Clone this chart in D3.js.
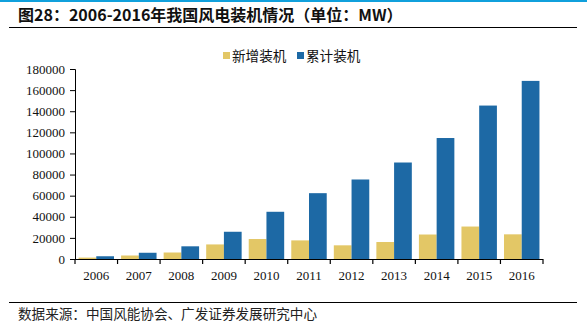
<!DOCTYPE html>
<html><head><meta charset="utf-8">
<script src="https://cdn.jsdelivr.net/npm/d3@7"></script>
<style>body{margin:0;background:#fff}svg{display:block}</style>
</head><body>
<script>
const years = ["2006","2007","2008","2009","2010","2011","2012","2013","2014","2015","2016"];
const newInstalled = [1337,3311,6154,13803,18928,17631,12960,16089,23196,30753,23370];
const cumulative = [2599,5910,12020,25805,44733,62364,75324,91413,114609,145362,168732];
const seriesNames = ["新增装机","累计装机"];
const yTicks = [0,20000,40000,60000,80000,100000,120000,140000,160000,180000];
const colors = ["#E3C766","#1D69A5"];
const titleText = "图28：2006-2016年我国风电装机情况（单位：MW）";
const sourceText = "数据来源：中国风能协会、广发证券发展研究中心";

const W=587,H=329;
const svg=d3.select("body").append("svg").attr("width",W).attr("height",H);
svg.append("rect").attr("x",0).attr("y",0).attr("width",W).attr("height",2).attr("fill","#10A0DC");
svg.append("text").attr("x",18).attr("y",21).text(titleText)
  .attr("font-family","'Noto Sans CJK SC', sans-serif").attr("font-weight","bold").attr("font-size",16).attr("fill","#111");
svg.append("line").attr("x1",9).attr("x2",577).attr("y1",27.5).attr("y2",27.5).attr("stroke","#000").attr("stroke-width",1.2);
svg.append("line").attr("x1",9).attr("x2",577).attr("y1",302.5).attr("y2",302.5).attr("stroke","#000").attr("stroke-width",1.2);
svg.append("text").attr("x",18).attr("y",319).text(sourceText)
  .attr("font-family","'Noto Sans CJK SC', serif").attr("font-size",13.6).attr("fill","#222");

const x0=d3.scaleBand().domain(years).range([75,543]).paddingInner(0).paddingOuter(0);
const x1=d3.scaleBand().domain([0,1]).range([0,x0.bandwidth()]).paddingInner(0).paddingOuter(0.2);
const y=d3.scaleLinear().domain([0,180000]).range([259,69]);

const g=svg.append("g");
years.forEach((yr,i)=>{
  [newInstalled[i],cumulative[i]].forEach((v,s)=>{
    g.append("rect").attr("x",x0(yr)+x1(s)).attr("width",x1.bandwidth())
      .attr("y",y(v)).attr("height",y(0)-y(v)).attr("fill",colors[s]);
  });
});

const ya=svg.append("g").attr("transform","translate(75,0)")
  .call(d3.axisLeft(y).tickValues(yTicks).tickSize(5).tickFormat(d3.format("d")));
ya.select(".domain").attr("stroke","#000").attr("d","M-5,69.5H0.5V259.5");
ya.selectAll("text").attr("font-family","'Liberation Serif', serif").attr("font-size",13).attr("fill","#111").attr("x",-10);
const xa=svg.append("g").attr("transform","translate(0,259)")
  .call(d3.axisBottom(x0).tickSize(0));
xa.select(".domain").attr("stroke","#000").attr("stroke-width",1.2).attr("d","M75,0.5H543");
xa.selectAll("text").attr("font-family","'Liberation Serif', serif").attr("font-size",13).attr("fill","#111").attr("dy","1.35em");
const bounds=years.map(d=>x0(d)).concat([x0.range()[1]]);
xa.selectAll(".bt").data(bounds).enter().append("line").attr("class","bt")
  .attr("x1",d=>d).attr("x2",d=>d).attr("y1",0).attr("y2",5).attr("stroke","#000").attr("stroke-width",1.2);

const lg=svg.append("g");
[[223,0],[297,1]].forEach(([lx,s])=>{
  lg.append("rect").attr("x",lx).attr("y",52).attr("width",7).attr("height",7).attr("fill",colors[s]);
  lg.append("text").attr("x",lx+9).attr("y",60.5).text(seriesNames[s])
    .attr("font-family","'Noto Sans CJK SC', serif").attr("font-size",13.6).attr("fill","#111");
});
</script>
</body></html>
